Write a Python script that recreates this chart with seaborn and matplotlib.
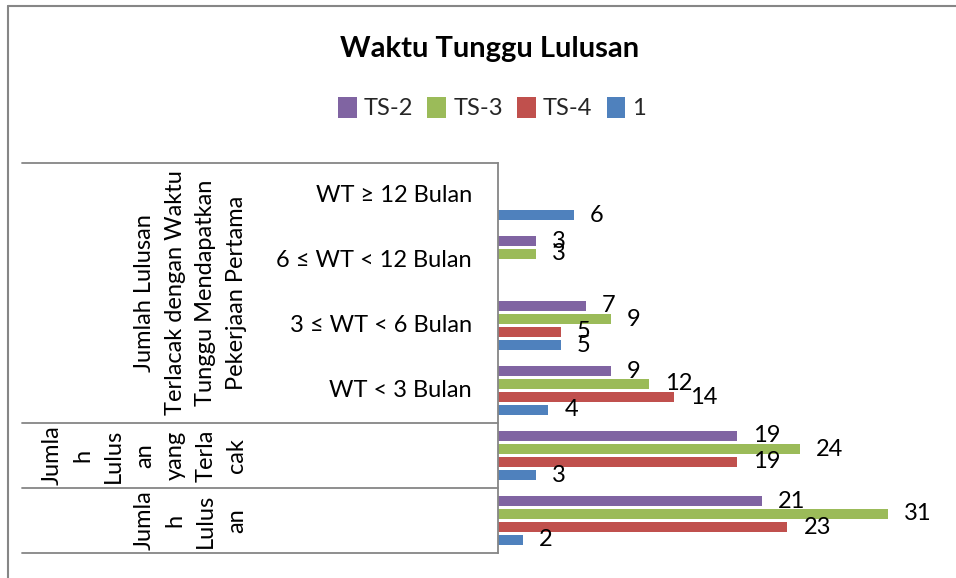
import numpy as np
import pandas as pd
import matplotlib
matplotlib.use("Agg")
import matplotlib.pyplot as plt
import matplotlib.transforms as mtransforms
from matplotlib.lines import Line2D
import seaborn as sns

# ---------------- data ----------------
categories = ["WT ≥ 12 Bulan", "6 ≤ WT < 12 Bulan", "3 ≤ WT < 6 Bulan",
              "WT < 3 Bulan", "Jumlah Lulusan yang Terlacak", "Jumlah Lulusan"]
level1_labels = ["WT ≥ 12 Bulan", "6 ≤ WT < 12 Bulan", "3 ≤ WT < 6 Bulan",
                 "WT < 3 Bulan", "", ""]
series = ["TS-2", "TS-3", "TS-4", "1"]
ts2 = [np.nan, 3, 7, 9, 19, 21]
ts3 = [np.nan, 3, 9, 12, 24, 31]
ts4 = [np.nan, np.nan, 5, 14, 19, 23]
s1 = [6, np.nan, 5, 4, 3, 2]
colors = ["#8064A2", "#9BBB59", "#C0504D", "#4F81BD"]

group_labels = [
    ("Jumlah Lulusan\nTerlacak dengan Waktu\nTunggu Mendapatkan\nPekerjaan Pertama", 0, 3),
    ("Jumla\nh\nLulus\nan\nyang\nTerla\ncak", 4, 4),
    ("Jumla\nh\nLulus\nan", 5, 5),
]
title = "Waktu Tunggu Lulusan"

rows = []
for name, vals in zip(series, [ts2, ts3, ts4, s1]):
    for c, v in zip(categories, vals):
        rows.append({"category": c, "series": name, "value": v})
df = pd.DataFrame(rows)

# ---------------- figure ----------------
sns.set_theme(style="white")
plt.rcParams["font.family"] = ["Lato", "DejaVu Sans"]
W, H = 956, 578
fig = plt.figure(figsize=(W / 100, H / 100), dpi=100)
fig.patch.set_facecolor("white")

ax_l, ax_r, ax_t, ax_b = 498, 951, 163, 553
ax = fig.add_axes([ax_l / W, 1 - ax_b / H, (ax_r - ax_l) / W, (ax_b - ax_t) / H])

sns.barplot(data=df, y="category", x="value", hue="series", order=categories,
            hue_order=series, palette=colors, width=0.8, gap=0.2, orient="h",
            errorbar=None, ax=ax, saturation=1, edgecolor="none")

handles, labels = ax.get_legend_handles_labels()
if ax.get_legend() is not None:
    ax.get_legend().remove()

ax.set_xlim(0, 36)
ax.set_ylim(5.5, -0.5)
ax.set_xlabel("")
ax.set_ylabel("")
ax.set_xticks([])
ax.set_yticks([])
for s in ["top", "right", "bottom"]:
    ax.spines[s].set_visible(False)
ax.spines["left"].set_color("#868686")
ax.spines["left"].set_linewidth(1.3)

fs = 17
# value labels
for p in ax.patches:
    w = p.get_width()
    if not np.isfinite(w) or w <= 0:
        continue
    yc = p.get_y() + p.get_height() / 2
    ax.annotate(f"{int(round(w))}", xy=(w, yc), xytext=(11.5, 0),
                textcoords="offset points", ha="left", va="center",
                fontsize=fs, color="black", annotation_clip=False)

# category axis labels
trans = mtransforms.blended_transform_factory(fig.transFigure, ax.transData)
for i, lab in enumerate(level1_labels):
    if lab:
        fig.text(472 / W, i, lab, transform=trans, ha="right", va="center",
                 fontsize=fs, color="black")
for text, i0, i1 in group_labels:
    fig.text(247 / W, (i0 + i1) / 2, text, transform=trans, rotation=90,
             ha="right", va="center", multialignment="center",
             fontsize=fs, color="black", linespacing=1.57)

for yb in [-0.5, 3.5, 4.5, 5.5]:
    fig.add_artist(Line2D([22 / W, ax_l / W], [yb, yb], transform=trans,
                          color="#868686", lw=1.3, clip_on=False))

# title
fig.text(490 / W, 1 - 49 / H, title, ha="center", va="center",
         fontsize=21, fontweight="bold", color="black")

# legend
leg = fig.legend(handles, labels, loc="center", bbox_to_anchor=(492 / W, 1 - 108 / H),
                 ncol=4, frameon=False, fontsize=fs, handlelength=0.8,
                 handleheight=1.0, handletextpad=0.3, columnspacing=0.6)

# chart border (left & top visible)
fig.add_artist(Line2D([8 / W, 8 / W], [0, 1 - 6 / H], transform=fig.transFigure,
                      color="#868686", lw=1.5))
fig.add_artist(Line2D([8 / W, 1], [1 - 6 / H, 1 - 6 / H], transform=fig.transFigure,
                      color="#868686", lw=1.5))

fig.savefig("out.png", dpi=100, facecolor="white")
